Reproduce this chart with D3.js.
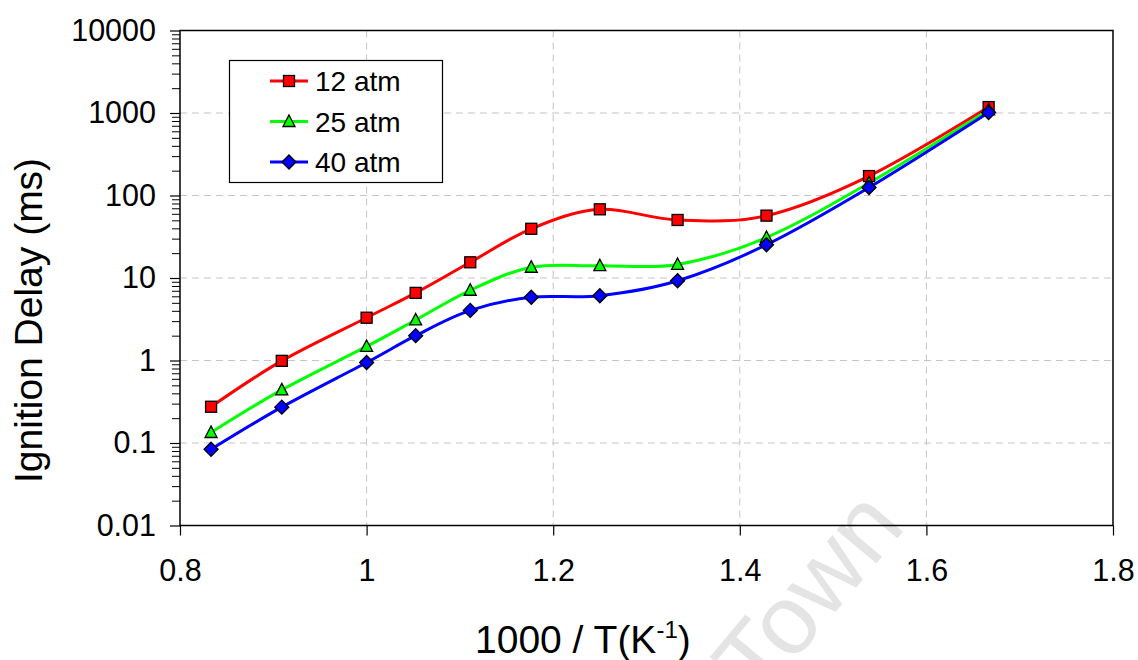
<!DOCTYPE html>
<html>
<head>
<meta charset="utf-8">
<script src="https://cdn.jsdelivr.net/npm/d3@7"></script>
<style>
  html, body { margin: 0; padding: 0; background: #ffffff; }
  svg { display: block; font-family: "Liberation Sans", Arial, sans-serif; }
</style>
</head>
<body>
<svg id="chart" width="1138" height="660"></svg>
<script>
// Inverse temperature, 1000/T (K^-1), for T = 1200 ... 600 K
const invT = [0.8333, 0.9091, 1.0, 1.0526, 1.1111, 1.1765, 1.25, 1.3333, 1.4286, 1.5385, 1.6667];

// Ignition delay (ms) at each pressure
const delay12 = [0.275, 0.99, 3.3, 6.6, 15.5, 39.5, 68, 50.5, 57, 172, 1180];
const delay25 = [0.134, 0.44, 1.48, 3.1, 7.1, 13.5, 14.1, 14.6, 31, 142, 1090];
const delay40 = [0.084, 0.272, 0.945, 2.0, 4.05, 5.85, 6.1, 9.25, 25.3, 125, 1015];

const seriesNames = ["12 atm", "25 atm", "40 atm"];
const seriesColors = ["#ff0000", "#00ff00", "#0000ff"];
const seriesMarkers = ["square", "triangle", "diamond"];

const xTicks = [0.8, 1.0, 1.2, 1.4, 1.6, 1.8];
const xTickLabels = ["0.8", "1", "1.2", "1.4", "1.6", "1.8"];
const yTicks = [0.01, 0.1, 1, 10, 100, 1000, 10000];
const yTickLabels = ["0.01", "0.1", "1", "10", "100", "1000", "10000"];

const svg = d3.select("#chart");
const pLeft = 180, pRight = 1113, pTop = 30.5, pBottom = 525.5;

const x = d3.scaleLinear().domain([0.8, 1.8]).range([pLeft, pRight]);
const y = d3.scaleLog().domain([0.01, 10000]).range([pBottom, pTop]);

// Dashed grid at major ticks
const grid = svg.append("g");
grid.selectAll("line.gx").data(xTicks.slice(1, -1)).enter().append("line")
  .attr("x1", d => x(d)).attr("x2", d => x(d))
  .attr("y1", pTop).attr("y2", pBottom)
  .attr("stroke", "#c4c4c4").attr("stroke-width", 1).attr("stroke-dasharray", "7,5");
grid.selectAll("line.gy").data(yTicks.slice(1, -1)).enter().append("line")
  .attr("x1", pLeft).attr("x2", pRight)
  .attr("y1", d => y(d)).attr("y2", d => y(d))
  .attr("stroke", "#c4c4c4").attr("stroke-width", 1).attr("stroke-dasharray", "7,5");

// Faint watermark text
svg.append("text")
  .attr("transform", "translate(760,702) rotate(-50)")
  .attr("font-size", 98)
  .attr("fill", "#e4e4e4")
  .text("Town");

// Minor log ticks
const minor = [];
for (let p = -2; p < 4; p++) for (let m = 2; m <= 9; m++) minor.push(m * Math.pow(10, p));
svg.append("g")
  .attr("transform", `translate(${pLeft},0)`)
  .call(d3.axisLeft(y).tickValues(minor).tickSize(8).tickFormat(""))
  .call(g => g.select(".domain").remove())
  .call(g => g.selectAll("line").attr("stroke", "#000").attr("stroke-width", 1));

// Major y axis
svg.append("g")
  .attr("transform", `translate(${pLeft},0)`)
  .call(d3.axisLeft(y).tickValues(yTicks).tickSize(10).tickPadding(14)
    .tickFormat((d, i) => yTickLabels[i]))
  .call(g => g.select(".domain").remove())
  .call(g => g.selectAll("line").attr("stroke", "#000").attr("stroke-width", 1.2))
  .call(g => g.selectAll("text").attr("font-size", 30.5).attr("fill", "#000")
    .attr("font-family", "'Liberation Sans', Arial, sans-serif"));

// X axis
svg.append("g")
  .attr("transform", `translate(0,${pBottom})`)
  .call(d3.axisBottom(x).tickValues(xTicks).tickSize(10).tickPadding(24)
    .tickFormat((d, i) => xTickLabels[i]))
  .call(g => g.select(".domain").remove())
  .call(g => g.selectAll("line").attr("stroke", "#000").attr("stroke-width", 1.2))
  .call(g => g.selectAll("text").attr("font-size", 30.5).attr("fill", "#000")
    .attr("font-family", "'Liberation Sans', Arial, sans-serif"));

// Plot frame
svg.append("rect")
  .attr("x", pLeft).attr("y", pTop)
  .attr("width", pRight - pLeft).attr("height", pBottom - pTop)
  .attr("fill", "none").attr("stroke", "#000").attr("stroke-width", 1.5);

// Marker drawing helper
function marker(sel, kind, color) {
  if (kind === "square") {
    sel.append("rect").attr("x", -5.5).attr("y", -5.5).attr("width", 11).attr("height", 11)
      .attr("fill", color).attr("stroke", "#000").attr("stroke-width", 1.3);
  } else if (kind === "triangle") {
    sel.append("path").attr("d", "M0,-6.5L6,5L-6,5Z")
      .attr("fill", color).attr("stroke", "#000").attr("stroke-width", 1.3);
  } else {
    sel.append("path").attr("d", "M0,-7L7,0L0,7L-7,0Z")
      .attr("fill", color).attr("stroke", "#000").attr("stroke-width", 1.3);
  }
}

const allSeries = [delay12, delay25, delay40];
const line = d3.line()
  .x(d => x(d[0])).y(d => y(d[1]))
  .curve(d3.curveCardinal.tension(0));

const plot = svg.append("g");
allSeries.forEach((vals, si) => {
  const pts = invT.map((t, i) => [t, vals[i]]);
  plot.append("path").datum(pts)
    .attr("d", line)
    .attr("fill", "none").attr("stroke", seriesColors[si]).attr("stroke-width", 3);
});
allSeries.forEach((vals, si) => {
  invT.forEach((t, i) => {
    const g = plot.append("g").attr("transform", `translate(${x(t)},${y(vals[i])})`);
    marker(g, seriesMarkers[si], seriesColors[si]);
  });
});

// Legend
const legend = svg.append("g");
legend.append("rect")
  .attr("x", 229.5).attr("y", 60.5).attr("width", 213).attr("height", 122)
  .attr("fill", "#fff").attr("stroke", "#000").attr("stroke-width", 1.2);
seriesNames.forEach((name, i) => {
  const cy = 81 + i * 40.5;
  legend.append("line").attr("x1", 270).attr("x2", 308).attr("y1", cy).attr("y2", cy)
    .attr("stroke", seriesColors[i]).attr("stroke-width", 3);
  const g = legend.append("g").attr("transform", `translate(289,${cy})`);
  marker(g, seriesMarkers[i], seriesColors[i]);
  legend.append("text").attr("x", 315).attr("y", cy + 10)
    .attr("font-size", 28).attr("fill", "#000").text(name);
});

// Axis titles
svg.append("text")
  .attr("transform", "translate(42,483) rotate(-90)")
  .attr("font-size", 39).attr("fill", "#000")
  .text("Ignition Delay (ms)");

const xt = svg.append("text").attr("x", 475).attr("y", 653)
  .attr("font-size", 39).attr("fill", "#000");
xt.append("tspan").text("1000 / T(K");
xt.append("tspan").attr("font-size", 24).attr("dy", -15).text("-1");
xt.append("tspan").attr("dy", 15).text(")");
</script>
</body>
</html>
